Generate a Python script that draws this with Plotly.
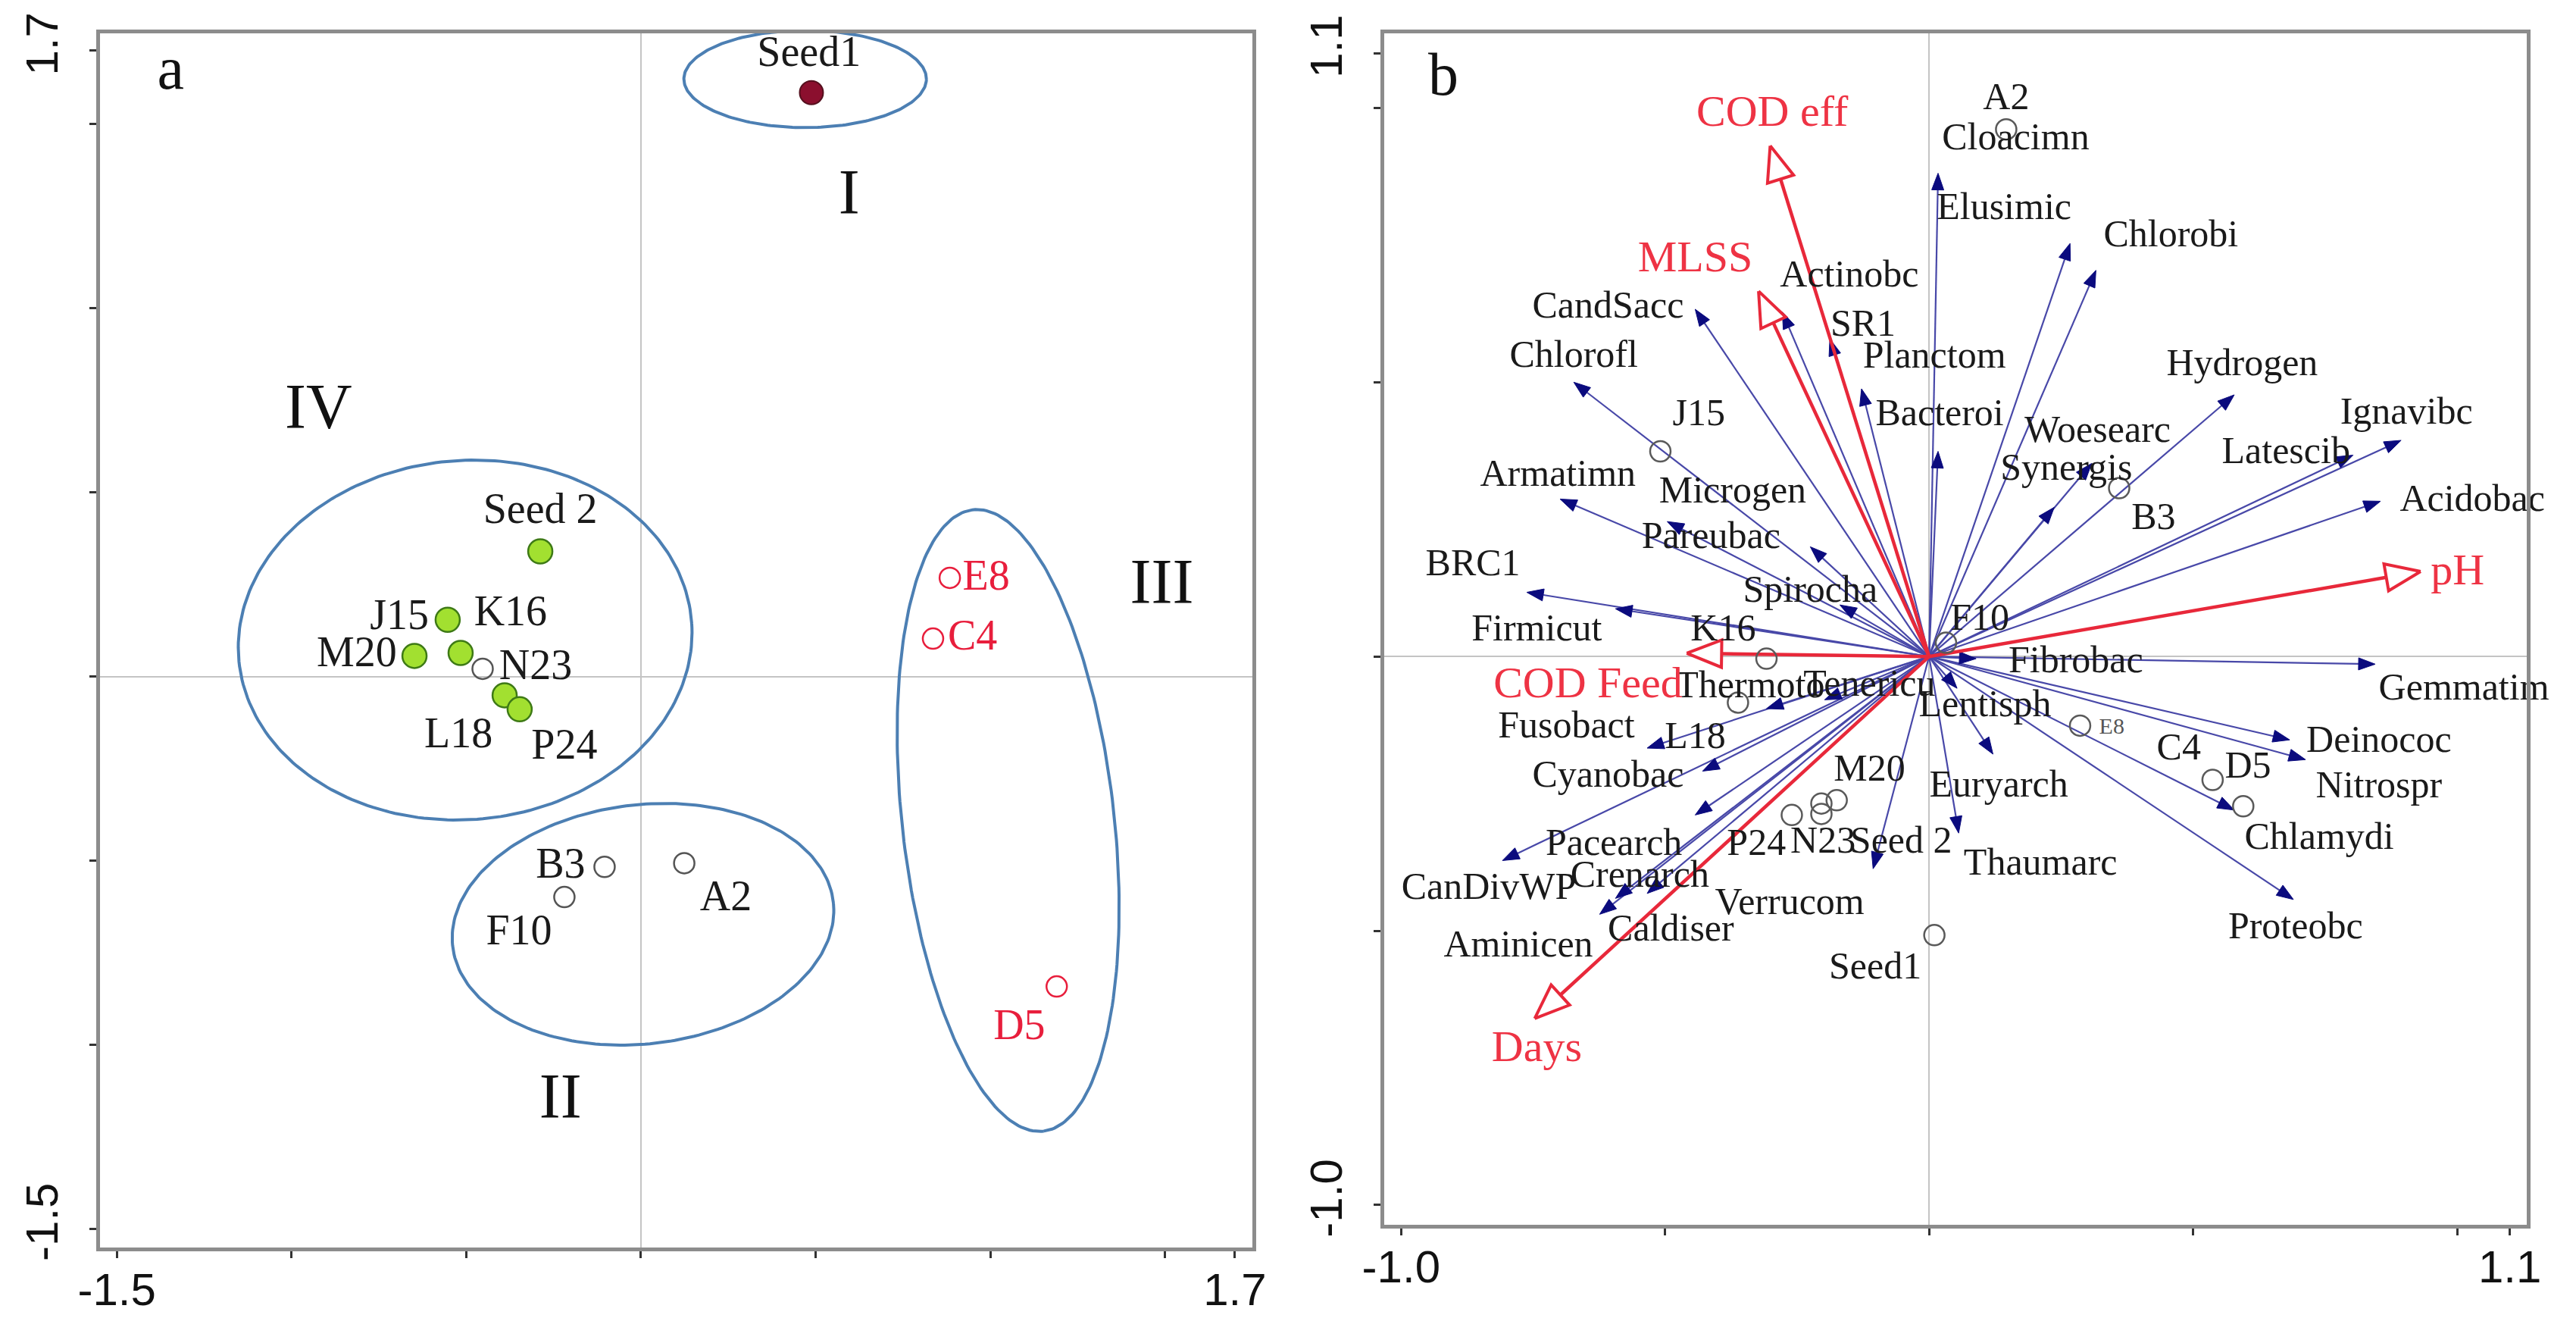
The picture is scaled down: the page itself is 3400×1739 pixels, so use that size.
import numpy as np
import plotly.graph_objects as go

W, H = 3400, 1739

# ---------------- Panel a : samples ----------------
a_names = ["Seed1", "Seed 2", "J15", "K16", "M20", "N23", "L18", "P24", "B3", "F10", "A2", "E8", "C4", "D5"]
a_x = [0.488, -0.288, -0.553, -0.516, -0.648, -0.453, -0.390, -0.347, -0.104, -0.219, 0.124, 0.884, 0.836, 1.190]
a_y = [1.586, 0.340, 0.154, 0.064, 0.056, 0.021, -0.051, -0.089, -0.517, -0.599, -0.507, 0.268, 0.103, -0.842]
a_group = ["seed1", "green", "green", "green", "green", "open", "green", "green", "open", "open", "open", "red", "red", "red"]
a_lab_x = [0.481, -0.288, -0.691, -0.373, -0.813, -0.301, -0.522, -0.219, -0.230, -0.349, 0.243, 0.988, 0.949, 1.083]
a_lab_y = [1.687, 0.445, 0.157, 0.169, 0.056, 0.021, -0.163, -0.194, -0.517, -0.698, -0.607, 0.264, 0.103, -0.956]

# cluster ellipses (centre, semi-axes, rotation in degrees)
ell_names = ["I", "II", "III", "IV"]
ell_cx = [0.470, 0.006, 1.051, -0.503]
ell_cy = [1.623, -0.673, -0.391, 0.099]
ell_a = [0.347, 0.548, 0.850, 0.650]
ell_b = [0.132, 0.325, 0.303, 0.488]
ell_rot = [0.0, 6.0, -83.1, 4.0]
ell_lab_x = [0.596, -0.230, 1.491, -0.923]
ell_lab_y = [1.301, -1.155, 0.243, 0.717]

# ---------------- Panel b : biplot ----------------
sp_names = ["Cloacimn", "Elusimic", "Chlorobi", "Actinobc", "SR1", "CandSacc", "Chlorofl", "Planctom",
            "Bacteroi", "Hydrogen", "Ignavibc", "Latescib", "Woesearc", "Synergis", "Acidobac", "Armatimn",
            "Microgen", "Pareubac", "BRC1", "Spirocha", "Firmicut", "Gemmatim", "Fibrobac", "Thermoto",
            "Tenericu", "Lentisph", "Fusobact", "Deinococ", "Nitrospr", "Cyanobac", "Euryarch", "Chlamydi",
            "Pacearch", "Crenarch", "CanDivWP", "Thaumarc", "Verrucom", "Caldiser", "Aminicen", "Proteobc"]
sp_x = [0.017, 0.267, 0.316, -0.278, -0.188, -0.443, -0.673, -0.128,
        0.017, 0.578, 0.894, 0.803, 0.308, 0.237, 0.855, -0.699,
        -0.225, -0.496, -0.762, -0.169, -0.594, 0.845, 0.089, -0.308,
        -0.198, 0.053, -0.534, 0.683, 0.713, -0.429, 0.121, 0.578,
        -0.443, -0.594, -0.808, 0.056, -0.106, -0.534, -0.624, 0.690]
sp_y = [0.881, 0.753, 0.704, 0.628, 0.579, 0.633, 0.500, 0.488,
        0.374, 0.477, 0.394, 0.367, 0.352, 0.272, 0.283, 0.287,
        0.200, 0.246, 0.117, 0.094, 0.087, -0.014, -0.004, -0.095,
        -0.079, -0.058, -0.167, -0.152, -0.188, -0.209, -0.178, -0.280,
        -0.289, -0.441, -0.372, -0.322, -0.387, -0.432, -0.470, -0.443]
sp_lab_x = [0.164, 0.142, 0.458, -0.151, -0.125, -0.608, -0.673, 0.010,
            0.020, 0.593, 0.904, 0.676, 0.319, 0.260, 1.029, -0.703,
            -0.372, -0.413, -0.864, -0.225, -0.743, 1.013, 0.278, -0.339,
            -0.113, 0.106, -0.687, 0.852, 0.852, -0.608, 0.132, 0.739,
            -0.597, -0.548, -0.834, 0.211, -0.264, -0.489, -0.778, 0.694]
sp_lab_y = [0.942, 0.815, 0.765, 0.692, 0.602, 0.635, 0.546, 0.544,
            0.439, 0.530, 0.442, 0.370, 0.409, 0.340, 0.283, 0.329,
            0.298, 0.215, 0.166, 0.117, 0.046, -0.061, -0.012, -0.057,
            -0.055, -0.091, -0.130, -0.156, -0.239, -0.220, -0.238, -0.334,
            -0.345, -0.402, -0.425, -0.380, -0.452, -0.500, -0.530, -0.497]

smp_names = ["A2", "J15", "B3", "F10", "K16", "L18", "E8", "C4", "D5", "M20", "N23", "P24", "Seed 2", "Seed1"]
smp_x = [0.146, -0.509, 0.360, 0.032, -0.308, -0.362, 0.286, 0.537, 0.595, -0.204, -0.204, -0.260, -0.175, 0.010]
smp_y = [0.961, 0.374, 0.307, 0.025, -0.004, -0.084, -0.126, -0.225, -0.273, -0.268, -0.287, -0.289, -0.262, -0.508]
smp_lab_x = [0.146, -0.436, 0.425, 0.096, -0.390, -0.443, 0.346, 0.473, 0.604, -0.113, -0.201, -0.327, -0.053, -0.102]
smp_lab_y = [1.015, 0.439, 0.250, 0.066, 0.047, -0.149, -0.130, -0.171, -0.204, -0.209, -0.341, -0.345, -0.341, -0.569]
smp_lab_size = [50, 50, 50, 50, 50, 50, 30, 50, 50, 50, 50, 50, 50, 50]

env_names = ["COD eff", "MLSS", "pH", "COD Feed", "Days"]
env_x = [-0.301, -0.323, 0.931, -0.459, -0.747]
env_y = [0.931, 0.666, 0.155, 0.006, -0.660]
env_lab_x = [-0.297, -0.443, 1.001, -0.646, -0.743]
env_lab_y = [0.988, 0.722, 0.151, -0.054, -0.717]

# ---------------- layout geometry ----------------
dom_ax = [124 / W, 1645 / W]
dom_ay = [1 - 1638 / H, 1 - 36 / H]
rng_ax = [-1.548, 1.750]
rng_ay = [-1.551, 1.747]
dom_bx = [1819 / W, 3327 / W]
dom_by = [1 - 1608 / H, 1 - 36 / H]
rng_bx = [-1.032, 1.132]
rng_by = [-1.036, 1.136]

sxb = (dom_bx[1] - dom_bx[0]) * W / (rng_bx[1] - rng_bx[0])
syb = (dom_by[1] - dom_by[0]) * H / (rng_by[1] - rng_by[0])

SERIF = "Liberation Serif, Times New Roman, serif"
TICKF = "Liberation Sans Narrow, Arial Narrow, Liberation Sans, Arial, sans-serif"
RED = "#E8283A"
RED_T = "#EE3344"
BLUE_L = "#4848A8"
BLUE_H = "#0B0B7E"
ELL = "#4C7FB3"

fig = go.Figure()

# ---- Panel a: ellipses ----
t = np.linspace(0, 2 * np.pi, 241)
ex, ey = [], []
for cx, cy, aa, bb, rot in zip(ell_cx, ell_cy, ell_a, ell_b, ell_rot):
    r = np.deg2rad(rot)
    xs = cx + aa * np.cos(t) * np.cos(r) - bb * np.sin(t) * np.sin(r)
    ys = cy + aa * np.cos(t) * np.sin(r) + bb * np.sin(t) * np.cos(r)
    ex += list(xs) + [None]
    ey += list(ys) + [None]
fig.add_trace(go.Scatter(x=ex, y=ey, mode="lines", line=dict(color=ELL, width=4),
                         hoverinfo="skip", xaxis="x", yaxis="y", showlegend=False))

# ---- Panel a: points ----
styles = {
    "seed1": dict(color="#8B0F2E", size=31, line=dict(color="#55101E", width=2)),
    "green": dict(color="#A2E030", size=32, line=dict(color="#3E7A16", width=2.5)),
    "open": dict(color="rgba(255,255,255,0)", size=27, line=dict(color="#555555", width=2.5)),
    "red": dict(color="rgba(255,255,255,0)", size=27, line=dict(color="#E81E3C", width=2.5)),
}
for g, st in styles.items():
    idx = [i for i, gg in enumerate(a_group) if gg == g]
    fig.add_trace(go.Scatter(x=[a_x[i] for i in idx], y=[a_y[i] for i in idx], mode="markers",
                             marker=st, hoverinfo="skip", xaxis="x", yaxis="y", showlegend=False))

a_lab_col = ["#E81E3C" if g == "red" else "#1a1a1a" for g in a_group]
fig.add_trace(go.Scatter(x=a_lab_x, y=a_lab_y, mode="text", text=a_names,
                         textfont=dict(family=SERIF, size=56, color=a_lab_col),
                         textposition="middle center", cliponaxis=False, hoverinfo="skip",
                         xaxis="x", yaxis="y", showlegend=False))
fig.add_trace(go.Scatter(x=ell_lab_x, y=ell_lab_y, mode="text", text=ell_names,
                         textfont=dict(family=SERIF, size=84, color="#111111"),
                         textposition="middle center", cliponaxis=False, hoverinfo="skip",
                         xaxis="x", yaxis="y", showlegend=False))


# ---- Panel b: arrows ----
def arrow_parts(xs, ys, L, hw):
    lx, ly, hx, hy = [], [], [], []
    for x, y in zip(xs, ys):
        px, py = x * sxb, y * syb
        d = np.hypot(px, py)
        ux, uy = px / d, py / d
        bx, by = px - L * ux, py - L * uy
        nx, ny = -uy, ux
        lx += [0, bx / sxb, None]
        ly += [0, by / syb, None]
        hx += [x, (bx + hw * nx) / sxb, (bx - hw * nx) / sxb, x, None]
        hy += [y, (by + hw * ny) / syb, (by - hw * ny) / syb, y, None]
    return lx, ly, hx, hy


blx, bly, bhx, bhy = arrow_parts(sp_x, sp_y, 22, 8)
fig.add_trace(go.Scatter(x=blx, y=bly, mode="lines", line=dict(color=BLUE_L, width=2.2),
                         hoverinfo="skip", xaxis="x2", yaxis="y2", showlegend=False))
fig.add_trace(go.Scatter(x=bhx, y=bhy, mode="lines", fill="toself", fillcolor=BLUE_H,
                         line=dict(color=BLUE_H, width=1), hoverinfo="skip",
                         xaxis="x2", yaxis="y2", showlegend=False))

rlx, rly, rhx, rhy = arrow_parts(env_x, env_y, 46, 18)
fig.add_trace(go.Scatter(x=rlx, y=rly, mode="lines", line=dict(color=RED, width=4.5),
                         hoverinfo="skip", xaxis="x2", yaxis="y2", showlegend=False))
fig.add_trace(go.Scatter(x=rhx, y=rhy, mode="lines", fill="toself", fillcolor="white",
                         line=dict(color=RED, width=4), hoverinfo="skip",
                         xaxis="x2", yaxis="y2", showlegend=False))

# ---- Panel b: samples ----
fig.add_trace(go.Scatter(x=smp_x, y=smp_y, mode="markers",
                         marker=dict(color="rgba(255,255,255,0)", size=27,
                                     line=dict(color="#5a5a5a", width=2.5)),
                         hoverinfo="skip", xaxis="x2", yaxis="y2", showlegend=False))

# ---- Panel b: labels ----
fig.add_trace(go.Scatter(x=sp_lab_x, y=sp_lab_y, mode="text", text=sp_names,
                         textfont=dict(family=SERIF, size=50, color="#1a1a1a"),
                         textposition="middle center", cliponaxis=False, hoverinfo="skip",
                         xaxis="x2", yaxis="y2", showlegend=False))
fig.add_trace(go.Scatter(x=smp_lab_x, y=smp_lab_y, mode="text", text=smp_names,
                         textfont=dict(family=SERIF, size=smp_lab_size,
                                       color=["#555555" if s < 40 else "#1a1a1a" for s in smp_lab_size]),
                         textposition="middle center", cliponaxis=False, hoverinfo="skip",
                         xaxis="x2", yaxis="y2", showlegend=False))
fig.add_trace(go.Scatter(x=env_lab_x, y=env_lab_y, mode="text", text=env_names,
                         textfont=dict(family=SERIF, size=58, color=RED_T),
                         textposition="middle center", cliponaxis=False, hoverinfo="skip",
                         xaxis="x2", yaxis="y2", showlegend=False))

# panel letters
fig.add_trace(go.Scatter(x=[-1.346], y=[1.637], mode="text", text=["a"],
                         textfont=dict(family=SERIF, size=80, color="#111111"),
                         hoverinfo="skip", xaxis="x", yaxis="y", showlegend=False))
fig.add_trace(go.Scatter(x=[-0.920], y=[1.052], mode="text", text=["b"],
                         textfont=dict(family=SERIF, size=80, color="#111111"),
                         hoverinfo="skip", xaxis="x2", yaxis="y2", showlegend=False))

# ---------------- axes ----------------
ax_common = dict(showline=True, linecolor="#8c8c8c", linewidth=5, mirror=True,
                 ticks="outside", ticklen=9, tickwidth=3, tickcolor="#333333",
                 showgrid=False, zeroline=True, zerolinecolor="#c4c4c4", zerolinewidth=2,
                 tickfont=dict(family=TICKF, size=60, color="#111111"),
                 automargin=False, fixedrange=True, layer="above traces")

a_xt = [-1.5, -1.0, -0.5, 0, 0.5, 1.0, 1.5, 1.7]
a_yt = [1.7, 1.5, 1.0, 0.5, 0, -0.5, -1.0, -1.5]
b_xt = [-1.0, -0.5, 0, 0.5, 1.0, 1.1]
b_yt = [1.1, 1.0, 0.5, 0, -0.5, -1.0]


def lab(vals, keep):
    return [("%.1f" % v if v in keep else "") for v in vals]


fig.update_layout(
    width=W, height=H, margin=dict(l=0, r=0, t=0, b=0),
    paper_bgcolor="white", plot_bgcolor="white",
    xaxis=dict(domain=dom_ax, range=rng_ax, anchor="y", tickvals=a_xt,
               ticktext=lab(a_xt, [-1.5, 1.7]), ticklabelstandoff=-10, **ax_common),
    yaxis=dict(domain=dom_ay, range=rng_ay, anchor="x", tickvals=a_yt,
               ticktext=lab(a_yt, [1.7, -1.5]), tickangle=-90, ticklabelstandoff=18, **ax_common),
    xaxis2=dict(domain=dom_bx, range=rng_bx, anchor="y2", tickvals=b_xt,
                ticktext=lab(b_xt, [-1.0, 1.1]), ticklabelstandoff=-10, **ax_common),
    yaxis2=dict(domain=dom_by, range=rng_by, anchor="x2", tickvals=b_yt,
                ticktext=lab(b_yt, [1.1, -1.0]), tickangle=-90, ticklabelstandoff=18, **ax_common),
)

fig.write_html("out.html")
